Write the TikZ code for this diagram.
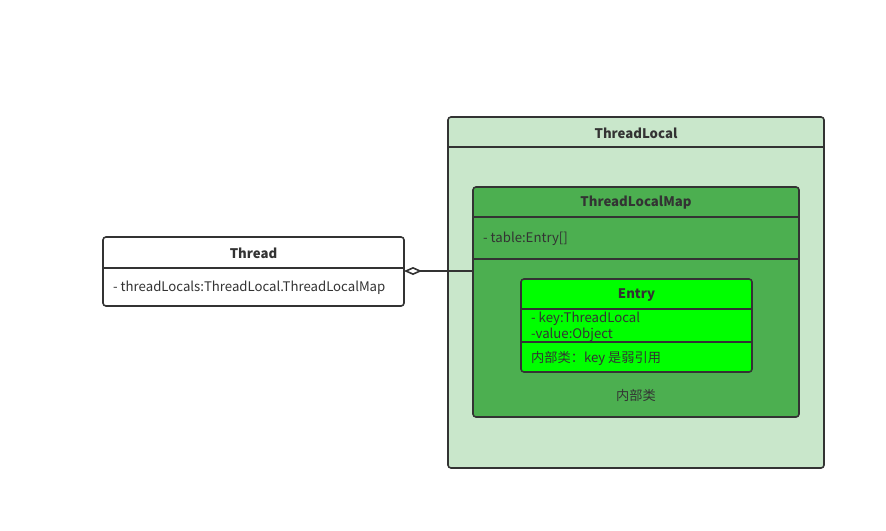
\documentclass[tikz,border=0pt]{standalone}
\usepackage{fontspec}
\setmainfont{Noto Sans CJK SC}
\usetikzlibrary{arrows.meta}
\definecolor{edge}{HTML}{333333}
\definecolor{outerfill}{HTML}{C9E7CB}
\definecolor{mapfill}{HTML}{4CAF50}
\definecolor{entryfill}{HTML}{00FF00}
\begin{document}
\begin{tikzpicture}[x=1pt,y=-1pt,
  umlbox/.style={draw=edge,line width=1.6pt,rounded corners=3pt},
  sep/.style={draw=edge,line width=1.6pt},
  title/.style={font=\fontsize{13.2}{15}\selectfont\bfseries,text=edge},
  attr/.style={font=\fontsize{13.2}{15}\selectfont,text=edge,anchor=west,inner sep=0pt},
  note/.style={font=\fontsize{13.2}{15}\selectfont,text=edge}]
\useasboundingbox[fill=white] (0,0) rectangle (886,530);

% Thread class
\path[umlbox,fill=white] (103,237) rectangle (404,306);
\draw[sep] (103,268) -- (404,268);
\node[title] (thread) at (253.5,253) {Thread};
\node[attr] (threadattr) at (113,288) {- threadLocals:ThreadLocal.ThreadLocalMap};
\coordinate (threadport) at (404,271);

% ThreadLocal class
\path[umlbox,fill=outerfill] (448,117) rectangle (824,468);
\draw[sep] (448,147) -- (824,147);
\node[title] (tl) at (636,133) {ThreadLocal};

% ThreadLocalMap inner class
\path[umlbox,fill=mapfill] (473,187) rectangle (799,417);
\draw[sep] (473,217) -- (799,217);
\draw[sep] (473,259) -- (799,259);
\node[title] (tlm) at (636,203) {ThreadLocalMap};
\node[attr] (tlmattr) at (483,239) {- table:Entry[]};
\coordinate (mapport) at (473,271);
\node[note] (tlmnote) at (636,395) {内部类};

% Entry inner class
\path[umlbox,fill=entryfill] (521,279) rectangle (752,372);
\draw[sep] (521,309) -- (752,309);
\draw[sep] (521,342) -- (752,342);
\node[title] (entry) at (636.5,295) {Entry};
\node[attr] (entrykey) at (531,319) {- key:ThreadLocal};
\node[attr] (entryval) at (531,335) {-value:Object};
\node[attr] (entrynote) at (531,358) {内部类：key 是弱引用};

% aggregation from ThreadLocalMap to Thread
\draw[edge,line width=1.6pt,-{Diamond[open,length=18pt,width=8pt,line width=1.6pt]}] (mapport) -- (threadport);
\end{tikzpicture}
\end{document}
